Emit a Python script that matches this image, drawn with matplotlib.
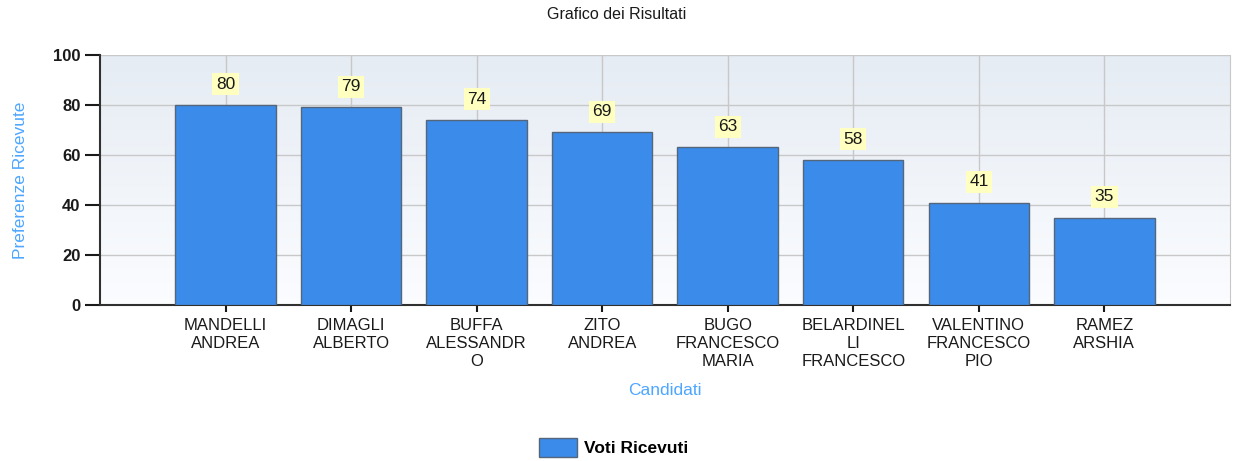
import numpy as np
import matplotlib.pyplot as plt

candidati = ["MANDELLI\nANDREA", "DIMAGLI\nALBERTO", "BUFFA\nALESSANDR\nO", "ZITO\nANDREA",
             "BUGO\nFRANCESCO\nMARIA", "BELARDINEL\nLI\nFRANCESCO", "VALENTINO\nFRANCESCO\nPIO",
             "RAMEZ\nARSHIA"]
voti = [80, 79, 74, 69, 63, 58, 41, 35]
y_ticks = [0, 20, 40, 60, 80, 100]

plt.rcParams['font.family'] = ['Liberation Sans', 'DejaVu Sans']

fig = plt.figure(figsize=(12.34, 4.61), dpi=100)
ax = fig.add_axes([0.081, 0.338, 0.9157, 0.543])

x = np.arange(len(voti))

# background gradient, darker at the top
grad = np.linspace(0, 1, 256).reshape(-1, 1)
top = np.array([0.90, 0.925, 0.955])
bottom = np.array([0.985, 0.99, 1.0])
img = top + (bottom - top) * grad
ax.imshow(img.reshape(256, 1, 3), aspect='auto', extent=(-1, len(voti), 0, 100),
          zorder=0, origin='upper')
ax.set_xlim(-1, len(voti))
ax.set_ylim(0, 100)

ax.set_xticks(x)
ax.set_yticks(y_ticks)
ax.grid(True, color='#c8c8c8', linewidth=1, zorder=1)
ax.set_axisbelow(True)

bars = ax.bar(x, voti, width=0.8, color='#3a8bea', edgecolor='#55657a', linewidth=1, zorder=3)
for xi, v in zip(x, voti):
    ax.text(xi, v + 8.3, str(v), ha='center', va='center', fontsize=12.5, color='#1a1a1a',
            zorder=4, bbox=dict(boxstyle='square,pad=0.2', facecolor='#ffffc0', edgecolor='none'))

ax.set_xticklabels(candidati, fontsize=12, color='#1a1a1a', linespacing=1.25)
ax.set_yticklabels([str(t) for t in y_ticks], fontsize=12, fontweight='bold', color='#1a1a1a')
ax.tick_params(axis='y', direction='out', length=11, width=1.5, color='#1a1a1a', pad=3)
ax.tick_params(axis='x', direction='out', length=5, width=1.5, color='#1a1a1a', pad=4)

ax.spines['top'].set_visible(False)
ax.spines['right'].set_color('#c8c8c8')
ax.spines['left'].set_color('#303030')
ax.spines['bottom'].set_color('#303030')
ax.spines['left'].set_linewidth(1.5)
ax.spines['bottom'].set_linewidth(1.5)

ax.set_ylabel("Preferenze Ricevute", color='#4da6ff', fontsize=12.5, labelpad=18)
ax.set_xlabel("Candidati", color='#4da6ff', fontsize=12.5, labelpad=10)
fig.suptitle("Grafico dei Risultati", fontsize=11.5, color='#1a1a1a', y=0.985)

leg = fig.legend([bars], ["Voti Ricevuti"], loc='center', bbox_to_anchor=(0.497, 0.03),
                 frameon=False, prop={'weight': 'bold', 'size': 12.5}, handlelength=2.2,
                 handleheight=1.3, handletextpad=0.4)

fig.savefig("out.png", dpi=100)
